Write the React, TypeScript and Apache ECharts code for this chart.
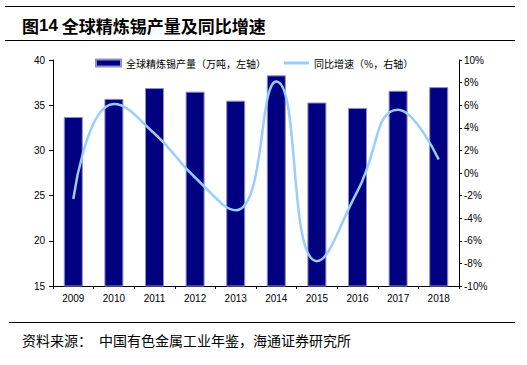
import React, { useEffect, useRef } from "react";
import * as echarts from "echarts";

const years = ["2009", "2010", "2011", "2012", "2013", "2014", "2015", "2016", "2017", "2018"];
const production = [33.7, 35.7, 36.9, 36.5, 35.5, 38.3, 35.3, 34.7, 36.6, 37.0];
const growth = [-2.3, 6.1, 3.5, -0.4, -3.3, 8.1, -7.8, -1.6, 5.6, 1.2];
const barName = "全球精炼锡产量（万吨，左轴）";
const lineName = "同比增速（%，右轴）";
const titleText = "全球精炼锡产量及同比增速";
const sourceText = "资料来源：　中国有色金属工业年鉴，海通证券研究所";

const LATIN = 'Arial, "Liberation Sans", sans-serif';
const CJK = '"Noto Sans CJK SC", sans-serif';

export default function App() {
  const ref = useRef<HTMLDivElement>(null);
  useEffect(() => {
    if (!ref.current) return;
    const chart = echarts.init(ref.current, undefined, { renderer: "svg" });
    chart.setOption({
      animation: false,
      backgroundColor: "#ffffff",
      grid: { left: 53, right: 68, top: 60, bottom: 79, containLabel: false },
      legend: {
        left: 95,
        top: 58,
        itemWidth: 25,
        itemHeight: 7,
        itemGap: 18,
        padding: 0,
        textStyle: { fontSize: 10, color: "#000", fontFamily: CJK },
        data: [
          { name: barName, icon: "rect" },
          { name: lineName, icon: "path://M0 0 H25 V3 H0 Z" },
        ],
      },
      xAxis: {
        type: "category",
        data: years,
        boundaryGap: true,
        axisLine: { onZero: false, lineStyle: { color: "#000", width: 1 } },
        axisTick: { show: true, alignWithLabel: false, length: 3, lineStyle: { color: "#000" } },
        axisLabel: { color: "#000", fontSize: 10, fontFamily: LATIN, margin: 7 },
        splitLine: { show: false },
      },
      yAxis: [
        {
          type: "value",
          min: 15,
          max: 40,
          interval: 5,
          axisLine: { show: true, lineStyle: { color: "#000", width: 1 } },
          axisTick: { show: true, length: 4, lineStyle: { color: "#000" } },
          axisLabel: { color: "#000", fontSize: 10, fontFamily: LATIN, margin: 8 },
          splitLine: { show: false },
        },
        {
          type: "value",
          min: -10,
          max: 10,
          interval: 2,
          position: "right",
          axisLine: { show: true, lineStyle: { color: "#000", width: 1 } },
          axisTick: { show: true, length: 3, lineStyle: { color: "#000" } },
          axisLabel: { color: "#000", fontSize: 10, fontFamily: LATIN, margin: 5, formatter: "{value}%" },
          splitLine: { show: false },
        },
      ],
      series: [
        {
          name: barName,
          type: "bar",
          data: production,
          barWidth: 19,
          itemStyle: { color: "#000080", borderColor: "#8f8fc8", borderWidth: 1 },
        },
        {
          name: lineName,
          type: "line",
          yAxisIndex: 1,
          data: growth,
          smooth: 0.5,
          symbol: "none",
          showSymbol: false,
          itemStyle: { color: "#99CCFF" },
          lineStyle: { color: "#99CCFF", width: 2.5 },
        },
      ],
      graphic: [
        { type: "line", shape: { x1: 5, y1: 6.5, x2: 515, y2: 6.5 }, style: { stroke: "#000", lineWidth: 1 } },
        {
          type: "text",
          x: 22,
          y: 25,
          style: {
            text: "{a|图}{b|14}{a| " + titleText + "}",
            verticalAlign: "middle",
            rich: {
              a: { fontFamily: CJK, fontSize: 17, fontWeight: "bold", fill: "#000" },
              b: { fontFamily: LATIN, fontSize: 17, fontWeight: "bold", fill: "#000" },
            },
          },
        },
        { type: "line", shape: { x1: 5, y1: 40.5, x2: 515, y2: 40.5 }, style: { stroke: "#000", lineWidth: 1 } },
        { type: "line", shape: { x1: 9, y1: 322.5, x2: 515, y2: 322.5 }, style: { stroke: "#000", lineWidth: 1 } },
        {
          type: "text",
          x: 22,
          y: 340,
          style: { text: sourceText, fontFamily: CJK, fontSize: 14, fill: "#000", verticalAlign: "middle" },
        },
      ],
    });
    return () => chart.dispose();
  }, []);
  return (
    <div
      ref={ref}
      style={{ position: "absolute", left: 0, top: 0, width: 527, height: 365, background: "#fff" }}
    />
  );
}
